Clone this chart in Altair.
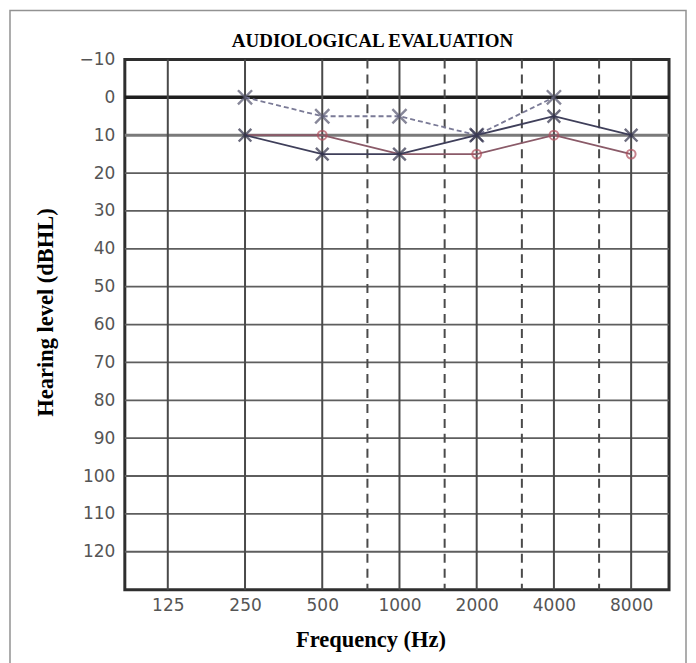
import altair as alt
import pandas as pd

# ---- data ----
chart_title = "AUDIOLOGICAL EVALUATION"
grid_freqs_solid = [125, 250, 500, 1000, 2000, 4000, 8000]
grid_freqs_dashed = [750, 1500, 3000, 6000]
grid_levels = [0, 10, 20, 30, 40, 50, 60, 70, 80, 90, 100, 110, 120]
y_tick_values = [-10, 0, 10, 20, 30, 40, 50, 60, 70, 80, 90, 100, 110, 120]

dash_freqs = [250, 500, 1000, 2000, 4000]
dash_levels = [0, 5, 5, 10, 0]

x_freqs = [250, 500, 1000, 2000, 4000, 8000]
x_levels = [10, 15, 15, 10, 5, 10]

o_freqs = [250, 500, 1000, 2000, 4000, 8000]
o_levels = [10, 10, 15, 15, 10, 15]
o_marked = [False, True, False, True, True, True]

W, H = 545, 531
XDOM = [85, 11240]
YDOM = [-10, 130]

xs = alt.Scale(type="log", domain=XDOM)
ys = alt.Scale(domain=YDOM, reverse=True)

df_vs = pd.DataFrame({"f": grid_freqs_solid})
df_vd = pd.DataFrame({"f": grid_freqs_dashed})
df_h = pd.DataFrame({"l": grid_levels})
df_h["w"] = [3.6 if v == 0 else (3.0 if v == 10 else 1.8) for v in grid_levels]
df_h["c"] = ["#1e1e1e" if v == 0 else ("#7a7a7a" if v == 10 else "#5e5e5e") for v in grid_levels]

df_axes = pd.DataFrame({"f": grid_freqs_solid, "l": grid_levels[:len(grid_freqs_solid)]})

df_dash = pd.DataFrame({"f": dash_freqs, "l": dash_levels})
df_x = pd.DataFrame({"f": x_freqs, "l": x_levels})
df_o = pd.DataFrame({"f": o_freqs, "l": o_levels, "m": o_marked})

X_SHAPE = "M-1,-1L1,1M1,-1L-1,1"
LABEL_FONT = "DejaVu Sans"

base_x = alt.X("f:Q", scale=xs, title="Frequency (Hz)",
               axis=alt.Axis(values=grid_freqs_solid, format="d", grid=False, ticks=False,
                             domain=False, labelPadding=8, labelFontSize=17,
                             labelFont=LABEL_FONT, labelColor="#555555",
                             titleFont="Liberation Serif", titleFontSize=22.5,
                             titleFontWeight="bold", titleColor="#000000",
                             titlePadding=15, titleX=246))

frame = alt.Chart(pd.DataFrame({"a": [0]})).mark_rect(
    filled=False, stroke="#929292", strokeWidth=1.5
).encode(x=alt.value(-115), x2=alt.value(562), y=alt.value(-49), y2=alt.value(622))

title_mark = alt.Chart(pd.DataFrame({"t": [chart_title]})).mark_text(
    font="Liberation Serif", fontSize=19, fontWeight="bold", color="#000000",
    align="center", baseline="middle"
).encode(text="t:N", x=alt.value(248), y=alt.value(-18))

vsolid = alt.Chart(df_vs).mark_rule(color="#4a4a4a", strokeWidth=2).encode(x=alt.X("f:Q", scale=xs))
vdash = alt.Chart(df_vd).mark_rule(color="#4a4a4a", strokeWidth=2, strokeDash=[9, 6]).encode(
    x=alt.X("f:Q", scale=xs))
hlines = alt.Chart(df_h).mark_rule().encode(
    y=alt.Y("l:Q", scale=ys),
    strokeWidth=alt.StrokeWidth("w:Q", scale=None, legend=None),
    color=alt.Color("c:N", scale=None, legend=None))

axes = alt.Chart(df_axes).mark_point(opacity=0, size=1).encode(
    x=base_x,
    y=alt.Y("l:Q", scale=ys, title="Hearing level (dBHL)",
            axis=alt.Axis(values=y_tick_values, grid=False, ticks=False, domain=False,
                          labelPadding=10, labelFontSize=17, labelFont=LABEL_FONT,
                          labelColor="#555555", titleFont="Liberation Serif", titleFontSize=22.5,
                          titleFontWeight="bold", titleColor="#000000", titleAngle=-90,
                          titleX=-79, titleY=253, titleAlign="center", titleBaseline="middle")),
)

dash_line = alt.Chart(df_dash).mark_line(color="#7a7a96", strokeWidth=1.8, strokeDash=[5, 3]).encode(
    x=alt.X("f:Q", scale=xs), y=alt.Y("l:Q", scale=ys))
dash_pts = alt.Chart(df_dash).mark_point(shape=X_SHAPE, size=200, strokeWidth=2.4, color="#55556e",
                                         filled=False).encode(
    x=alt.X("f:Q", scale=xs), y=alt.Y("l:Q", scale=ys))

o_line = alt.Chart(df_o).mark_line(color="#8a5a68", strokeWidth=1.8).encode(
    x=alt.X("f:Q", scale=xs), y=alt.Y("l:Q", scale=ys))
o_pts = alt.Chart(df_o).transform_filter("datum.m").mark_point(
    shape="circle", size=80, strokeWidth=2, color="#b0505e", filled=False).encode(
    x=alt.X("f:Q", scale=xs), y=alt.Y("l:Q", scale=ys))

x_line = alt.Chart(df_x).mark_line(color="#3f3f5a", strokeWidth=1.8).encode(
    x=alt.X("f:Q", scale=xs), y=alt.Y("l:Q", scale=ys))
x_pts = alt.Chart(df_x).mark_point(shape=X_SHAPE, size=160, strokeWidth=2.4, color="#2e2e48",
                                   filled=False).encode(
    x=alt.X("f:Q", scale=xs), y=alt.Y("l:Q", scale=ys))

chart = alt.layer(
    frame, title_mark, hlines, vsolid, vdash, axes, dash_line, o_line, x_line, dash_pts, o_pts, x_pts
).properties(
    width=W, height=H,
).configure(
    padding={"left": 1, "top": 1, "right": 1, "bottom": 1},
    background="#ffffff",
    view=alt.ViewConfig(stroke="#2e2e2e", strokeWidth=3),
)

chart.save("out.html", embed_options={"renderer": "svg", "actions": False})
